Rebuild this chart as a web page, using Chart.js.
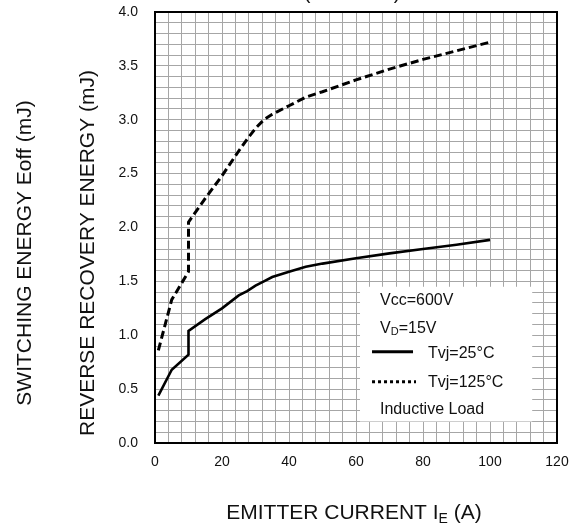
<!DOCTYPE html>
<html>
<head>
<meta charset="utf-8">
<title>Switching energy vs emitter current</title>
<script src="https://cdn.jsdelivr.net/npm/chart.js@4.4.1/dist/chart.umd.min.js"></script>
<style>
    html, body { margin: 0; padding: 0; background: #fff; }
    #chartBox { width: 573px; height: 524px; }
</style>
</head>
<body>
<div id="chartBox"><canvas id="energyChart"></canvas></div>
<script>
// values
const emitterCurrent = [1, 5, 10, 10, 15, 20, 25, 27.5, 30, 32.5, 35, 40, 45, 50, 60, 70, 80, 90, 100];
const energyTvj25 = [0.44, 0.68, 0.82, 1.04, 1.15, 1.25, 1.37, 1.41, 1.46, 1.50, 1.54, 1.59, 1.635, 1.665, 1.715, 1.76, 1.80, 1.84, 1.885];
const energyTvj125 = [0.86, 1.33, 1.59, 2.05, 2.27, 2.48, 2.71, 2.82, 2.92, 3.0, 3.05, 3.13, 3.21, 3.26, 3.37, 3.47, 3.56, 3.64, 3.72];
const xTickLabels = [0, 20, 40, 60, 80, 100, 120];
const yTickLabels = [0.0, 0.5, 1.0, 1.5, 2.0, 2.5, 3.0, 3.5, 4.0];

const FONT = '"Liberation Sans", Arial, Helvetica, sans-serif';

function toPoints(xs, ys) {
    return xs.map((x, i) => ({ x: x, y: ys[i] }));
}

function font(size) {
    return size + 'px ' + FONT;
}

// draws a run of text pieces (used for subscripts), returns the width
function drawRun(ctx, parts, x, y, measureOnly) {
    let cx = x;
    parts.forEach(p => {
        ctx.font = font(p.size);
        if (!measureOnly) ctx.fillText(p.text, cx, y + (p.dy || 0));
        cx += ctx.measureText(p.text).width;
    });
    return cx - x;
}

const sheetPlugin = {
    id: 'sheet',
    beforeDatasetsDraw(chart) {
        const { ctx, scales } = chart;
        const left = scales.x.getPixelForValue(61.2);
        const right = scales.x.getPixelForValue(112.6);
        const top = scales.y.getPixelForValue(1.45);
        const bottom = scales.y.getPixelForValue(0.2);
        ctx.save();
        ctx.fillStyle = '#fff';
        ctx.fillRect(left, top, right - left, bottom - top);
        ctx.restore();
    },
    afterDraw(chart) {
        const { ctx, chartArea, scales } = chart;
        ctx.save();

        // frame
        ctx.strokeStyle = '#000';
        ctx.lineWidth = 2;
        ctx.strokeRect(chartArea.left, chartArea.top, chartArea.right - chartArea.left, chartArea.bottom - chartArea.top);

        // legend box contents
        const bx = scales.x.getPixelForValue(61.2);
        const by = scales.y.getPixelForValue(1.45);
        ctx.fillStyle = '#111';
        ctx.textAlign = 'left';
        ctx.textBaseline = 'alphabetic';
        drawRun(ctx, [{ text: 'Vcc=600V', size: 16 }], bx + 20, by + 18);
        drawRun(ctx, [{ text: 'V', size: 16 }, { text: 'D', size: 11, dy: 2 }, { text: '=15V', size: 16 }], bx + 20, by + 46);
        drawRun(ctx, [{ text: 'Tvj=25°C', size: 16 }], bx + 68, by + 71.5);
        drawRun(ctx, [{ text: 'Tvj=125°C', size: 16 }], bx + 68, by + 100);
        drawRun(ctx, [{ text: 'Inductive Load', size: 16 }], bx + 20, by + 127.5);

        ctx.strokeStyle = '#000';
        ctx.lineWidth = 3;
        ctx.beginPath();
        ctx.moveTo(bx + 12, by + 65);
        ctx.lineTo(bx + 53, by + 65);
        ctx.stroke();
        ctx.setLineDash([3, 3]);
        ctx.beginPath();
        ctx.moveTo(bx + 12, by + 95);
        ctx.lineTo(bx + 56, by + 95);
        ctx.stroke();
        ctx.setLineDash([]);

        // cut-off heading at the very top
        ctx.font = font(20);
        ctx.textAlign = 'center';
        ctx.fillText('(TYPICAL)', 352, -1.5);

        // x axis title with subscript
        const xParts = [{ text: 'EMITTER CURRENT I', size: 21 }, { text: 'E', size: 14, dy: 4 }, { text: ' (A)', size: 21 }];
        ctx.textAlign = 'left';
        const w = drawRun(ctx, xParts, 0, 0, true);
        drawRun(ctx, xParts, 354 - w / 2, 519);

        // y axis titles
        ctx.font = font(21);
        ctx.textAlign = 'center';
        [['SWITCHING ENERGY Eoff (mJ)', 31], ['REVERSE RECOVERY ENERGY (mJ)', 93.5]].forEach(t => {
            ctx.save();
            ctx.translate(t[1], 253);
            ctx.rotate(-Math.PI / 2);
            ctx.fillText(t[0], 0, 0);
            ctx.restore();
        });

        ctx.restore();
    }
};

document.addEventListener('DOMContentLoaded', function() {
    const canvas = document.getElementById('energyChart');

    new Chart(canvas, {
        type: 'line',
        data: {
            datasets: [{
                label: 'Tvj=25°C',
                data: toPoints(emitterCurrent, energyTvj25),
                borderColor: '#000',
                borderWidth: 2.6,
                pointRadius: 0,
                tension: 0,
                fill: false
            },
            {
                label: 'Tvj=125°C',
                data: toPoints(emitterCurrent, energyTvj125),
                borderColor: '#000',
                borderWidth: 3,
                borderDash: [8, 4],
                pointRadius: 0,
                tension: 0,
                fill: false
            }]
        },
        options: {
            responsive: true,
            maintainAspectRatio: false,
            animation: false,
            layout: {
                padding: { left: 0, right: 16, top: 12, bottom: 0 }
            },
            scales: {
                x: {
                    type: 'linear',
                    min: 0,
                    max: 120,
                    afterFit: function(scale) {
                        scale.height = 81;
                        scale.paddingLeft = 0;
                        scale.paddingRight = 0;
                    },
                    grid: { color: '#a6a6a6', lineWidth: 1, drawTicks: false },
                    border: { display: false },
                    ticks: {
                        stepSize: 4,
                        autoSkip: false,
                        maxRotation: 0,
                        padding: 11,
                        color: '#111',
                        font: { family: FONT, size: 14 },
                        callback: function(value) {
                            return xTickLabels.includes(value) ? String(value) : '';
                        }
                    }
                },
                y: {
                    type: 'linear',
                    min: 0,
                    max: 4,
                    afterFit: function(scale) {
                        scale.width = 155;
                        scale.paddingTop = 0;
                        scale.paddingBottom = 0;
                    },
                    grid: { color: '#a6a6a6', lineWidth: 1, drawTicks: false },
                    border: { display: false },
                    ticks: {
                        stepSize: 0.1,
                        autoSkip: false,
                        padding: 17,
                        color: '#111',
                        font: { family: FONT, size: 14 },
                        callback: function(value) {
                            const hit = yTickLabels.find(v => Math.abs(v - value) < 1e-6);
                            return hit !== undefined ? hit.toFixed(1) : '';
                        }
                    }
                }
            },
            plugins: {
                legend: { display: false },
                tooltip: { enabled: false }
            }
        },
        plugins: [sheetPlugin]
    });
});
</script>
</body>
</html>
